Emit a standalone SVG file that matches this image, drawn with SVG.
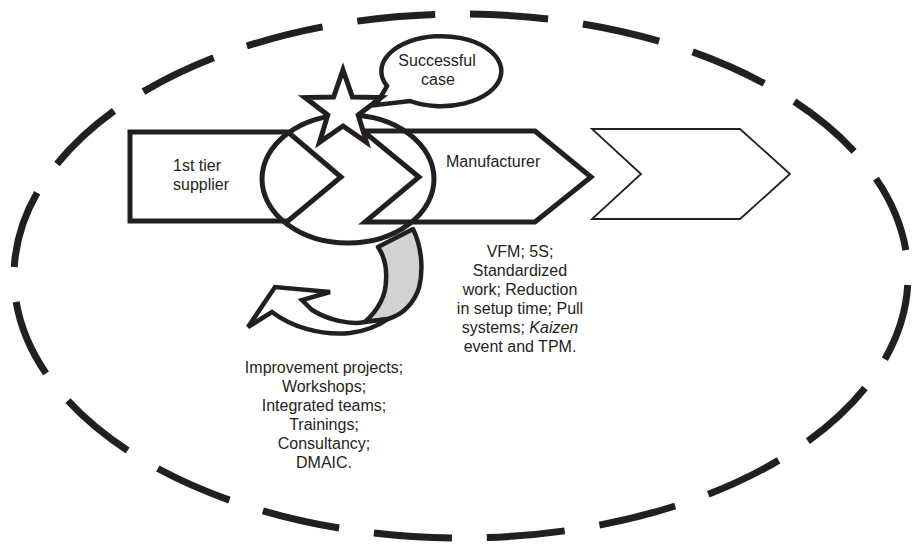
<svg xmlns="http://www.w3.org/2000/svg" width="913" height="545" viewBox="0 0 913 545">
<style>
  .lbl { font-family: "Liberation Sans", Arial, Helvetica, sans-serif; font-size: 16px; fill: #231f20; }
  .mid { text-anchor: middle; }
  .thick { fill: #ffffff; stroke: #231f20; stroke-width: 5; stroke-linejoin: miter; }
  .thin { fill: #ffffff; stroke: #231f20; stroke-width: 1.8; }
  .ring { fill: none; stroke: #231f20; stroke-width: 5; }
</style>
<rect x="0" y="0" width="913" height="545" fill="#ffffff"/>

<g id="boundary">
  <path d="M908,276 A447,262 0 0 1 14,276 A447,262 0 0 1 908,276 Z" pathLength="20" fill="none" stroke="#231f20" stroke-width="7" stroke-dasharray="0.69 0.31" stroke-dashoffset="0.919"/>
</g>

<g id="supplier">
  <path class="thick" d="M130,132 L288,132 L341,177 L288,221 L130,221 Z"/>
  <text class="lbl" x="173" y="171">1st tier</text>
  <text class="lbl" x="173" y="190">supplier</text>
</g>

<g id="manufacturer">
  <path class="thick" d="M363,131 L535,131 L591,177 L535,222 L365,222 L419,177 Z"/>
  <text class="lbl" x="446" y="167">Manufacturer</text>
</g>

<g id="next-stage">
  <path class="thin" d="M592,129 L740,129 L790,174 L740,219 L592,219 L641,174 Z"/>
</g>

<g id="interface">
  <ellipse class="ring" cx="348" cy="179" rx="86" ry="64"/>
</g>

<g id="connectors">
  <path d="M378,247 L413,229 C421,245 424,268 419,288 C413,305 401,315 388,319 L365,322 C378,310 386,295 386,280 C387,267 384,256 378,247 Z" fill="#d1d2d4" stroke="#231f20" stroke-width="4.5" stroke-linejoin="round"/>
  <path d="M365,322 C350,325 328,320 312,310 L302,300 L330,292 L275,287 L248,327 L272,312 C290,326 320,336 350,333 C366,331 378,326 388,319 Z" fill="#ffffff" stroke="#231f20" stroke-width="4.5" stroke-linejoin="miter"/>
</g>

<g id="successful-case">
  <path d="M387,86 L376,105 L410,101 A60,35 0 1 0 387,86 Z" fill="#ffffff" stroke="#231f20" stroke-width="4.5" stroke-linejoin="miter"/>
  <text class="lbl mid" x="437" y="66">Successful</text>
  <text class="lbl mid" x="438" y="85">case</text>
</g>

<g id="star">
  <path class="thick" d="M343,70 L352.4,97.1 L381,97.6 L358.2,114.9 L366.5,142.4 L343,126 L319.5,142.4 L327.8,114.9 L305,97.6 L333.6,97.1 Z"/>
</g>

<g id="manufacturer-practices">
  <text class="lbl mid" x="520" y="257">VFM; 5S;</text>
  <text class="lbl mid" x="520" y="276">Standardized</text>
  <text class="lbl mid" x="520" y="295">work; Reduction</text>
  <text class="lbl mid" x="520" y="314">in setup time; Pull</text>
  <text class="lbl mid" x="520" y="333">systems; <tspan font-style="italic">Kaizen</tspan></text>
  <text class="lbl mid" x="520" y="352">event and TPM.</text>
</g>

<g id="supplier-development">
  <text class="lbl mid" x="324" y="373">Improvement projects;</text>
  <text class="lbl mid" x="324" y="392">Workshops;</text>
  <text class="lbl mid" x="324" y="411">Integrated teams;</text>
  <text class="lbl mid" x="324" y="430">Trainings;</text>
  <text class="lbl mid" x="324" y="449">Consultancy;</text>
  <text class="lbl mid" x="324" y="468">DMAIC.</text>
</g>
</svg>
